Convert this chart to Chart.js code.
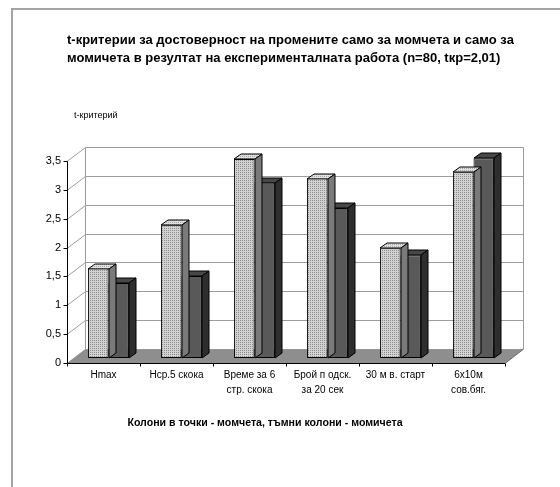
<!DOCTYPE html>
<html><head><meta charset="utf-8">
<script src="https://cdn.jsdelivr.net/npm/chart.js@4/dist/chart.umd.min.js"></script>
<style>html,body{margin:0;padding:0;background:#fff;}#wrap{width:560px;height:487px;position:relative;}</style>
</head><body><div id="wrap"><canvas id="c" width="560" height="487"></canvas></div>
<script>
const categories = [["Hmax"],["Hср.5 скока"],["Време за 6","стр. скока"],["Брой п одск.","за 20 сек"],["30 м в. старт"],["6x10м","сов.бяг."]];
const boys = [1.55, 2.30, 3.45, 3.11, 1.90, 3.22];
const girls = [1.30, 1.42, 3.04, 2.60, 1.78, 3.46];
const seriesNames = ["момчета","момичета"];
const yTicks = [0,0.5,1,1.5,2,2.5,3,3.5];
const yTickLabels = ["0","0,5","1","1,5","2","2,5","3","3,5"];
const titleLines = ["t-критерии за достоверност на промените само за момчета и само за","момичета в резултат на експерименталната работа (n=80, tкр=2,01)"];
const yAxisLabel = "t-критерий";
const noteText = "Колони в точки - момчета, тъмни колони - момичета";

const FONT = "'Liberation Sans', Arial, sans-serif";
const canvas = document.getElementById('c');
const mainCtx = canvas.getContext('2d');

function dotPattern(a, b){
  const c = document.createElement('canvas'); c.width = 2; c.height = 2;
  const g = c.getContext('2d');
  g.fillStyle = a; g.fillRect(0,0,2,2);
  g.fillStyle = b; g.fillRect(0,0,1,1);
  return mainCtx.createPattern(c, 'repeat');
}
const lightFront = dotPattern('#d2d2d2', '#8e8e8e');
const lightTop = dotPattern('#e0e0e0', '#a8a8a8');
const faces = [
  {top: lightTop, side: '#7a7a7a'},
  {top: '#474747', side: '#2e2e2e'}
];
const BACK = {dx: 13, dy: -9};
const FRONT = {dx: -5, dy: 5};
const DEPTH = {dx: 7, dy: -5};

const pseudo3d = {
  id: 'pseudo3d',
  afterLayout(chart){
    const t = chart.titleBlock;
    if (t) { t.left = 67; t.right = 560; }
  },
  beforeDraw(chart){
    const ctx = chart.ctx;
    ctx.save();
    ctx.strokeStyle = '#a4a4a4'; ctx.lineWidth = 2;
    ctx.beginPath();
    ctx.moveTo(12, 487); ctx.lineTo(12, 9); ctx.lineTo(560, 9);
    ctx.stroke();
    ctx.restore();
  },
  beforeDatasetsDraw(chart){
    const ctx = chart.ctx, ys = chart.scales.y, ca = chart.chartArea;
    const yTop = ys.getPixelForValue(yTicks[yTicks.length-1]);
    const yBot = ys.getPixelForValue(0);
    ctx.save();
    const bl = ca.left + BACK.dx, br = ca.right + BACK.dx;
    ctx.fillStyle = '#ffffff';
    ctx.fillRect(bl, yTop + BACK.dy, br - bl, yBot - yTop);
    ctx.strokeStyle = '#9c9c9c'; ctx.lineWidth = 1;
    yTicks.forEach(v => {
      const py = Math.round(ys.getPixelForValue(v)) + 0.5;
      ctx.beginPath();
      ctx.moveTo(ca.left + FRONT.dx, py + FRONT.dy);
      ctx.lineTo(bl + 0.5, py + BACK.dy);
      ctx.lineTo(br + 0.5, py + BACK.dy);
      ctx.stroke();
    });
    ctx.beginPath();
    ctx.moveTo(bl + 0.5, Math.round(yTop) + BACK.dy + 0.5);
    ctx.lineTo(bl + 0.5, Math.round(yBot) + BACK.dy + 0.5);
    ctx.moveTo(br + 0.5, Math.round(yTop) + BACK.dy + 0.5);
    ctx.lineTo(br + 0.5, Math.round(yBot) + BACK.dy + 0.5);
    ctx.stroke();
    const fy = Math.round(yBot) + 0.5;
    ctx.fillStyle = '#8e8e8e';
    ctx.beginPath();
    ctx.moveTo(ca.left + FRONT.dx, fy + FRONT.dy);
    ctx.lineTo(ca.right + FRONT.dx, fy + FRONT.dy);
    ctx.lineTo(ca.right + BACK.dx, fy + BACK.dy);
    ctx.lineTo(ca.left + BACK.dx, fy + BACK.dy);
    ctx.closePath();
    ctx.fill();
    ctx.strokeStyle = '#6a6a6a';
    ctx.beginPath();
    ctx.moveTo(ca.right + FRONT.dx, fy + FRONT.dy);
    ctx.lineTo(ca.right + BACK.dx, fy + BACK.dy);
    ctx.stroke();
    ctx.strokeStyle = '#000'; ctx.lineWidth = 1;
    const ax = ca.left + FRONT.dx + 0.5;
    ctx.beginPath();
    ctx.moveTo(ax, Math.round(yTop) + FRONT.dy + 0.5);
    ctx.lineTo(ax, fy + FRONT.dy);
    ctx.lineTo(ca.right + FRONT.dx, fy + FRONT.dy);
    yTicks.forEach(v => {
      const py = Math.round(ys.getPixelForValue(v)) + 0.5 + FRONT.dy;
      ctx.moveTo(ax - 4, py); ctx.lineTo(ax, py);
    });
    const n = categories.length, step = (ca.right - ca.left) / n;
    for (let k = 0; k <= n; k++) {
      const px = Math.round(ca.left + k * step + FRONT.dx) + 0.5;
      ctx.moveTo(px, fy + FRONT.dy); ctx.lineTo(px, fy + FRONT.dy + 3);
    }
    ctx.stroke();
    ctx.restore();
  },
  beforeDatasetDraw(chart, args){
    const ctx = chart.ctx;
    const meta = chart.getDatasetMeta(args.index);
    const f = faces[args.index];
    ctx.save();
    ctx.strokeStyle = '#000'; ctx.lineWidth = 1;
    meta.data.forEach(el => {
      const p = el.getProps(['x','y','base','width'], true);
      const l = Math.round(p.x - p.width/2), r = Math.round(p.x + p.width/2);
      const t = Math.round(p.y), b = Math.round(p.base);
      ctx.fillStyle = f.top;
      ctx.beginPath();
      ctx.moveTo(l, t); ctx.lineTo(l + DEPTH.dx, t + DEPTH.dy);
      ctx.lineTo(r + DEPTH.dx, t + DEPTH.dy); ctx.lineTo(r, t); ctx.closePath();
      ctx.fill(); ctx.stroke();
      ctx.fillStyle = f.side;
      ctx.beginPath();
      ctx.moveTo(r, t); ctx.lineTo(r + DEPTH.dx, t + DEPTH.dy);
      ctx.lineTo(r + DEPTH.dx, b + DEPTH.dy); ctx.lineTo(r, b); ctx.closePath();
      ctx.fill(); ctx.stroke();
    });
    ctx.restore();
  },
  afterDraw(chart){
    const ctx = chart.ctx;
    ctx.save();
    ctx.fillStyle = '#000';
    ctx.textBaseline = 'middle';
    ctx.textAlign = 'left';
    ctx.font = '9px ' + FONT;
    ctx.fillText(yAxisLabel, 74, 116);
    ctx.font = 'bold 10.6px ' + FONT;
    ctx.textAlign = 'center';
    ctx.fillText(noteText, 265, 423);
    ctx.restore();
  }
};

new Chart(canvas, {
  type: 'bar',
  data: {
    labels: categories,
    datasets: [
      {label: seriesNames[0], data: boys, backgroundColor: lightFront, borderColor: '#000', borderWidth: 1, borderSkipped: false},
      {label: seriesNames[1], data: girls, backgroundColor: '#595959', borderColor: '#000', borderWidth: 1, borderSkipped: false}
    ]
  },
  plugins: [pseudo3d],
  options: {
    responsive: false,
    animation: false,
    devicePixelRatio: 1,
    layout: {padding: {left: 36, right: 50, top: 0, bottom: 0}},
    datasets: {bar: {categoryPercentage: 0.56, barPercentage: 1.0}},
    scales: {
      x: {
        grid: {display: false, drawTicks: false},
        border: {display: false},
        ticks: {color: '#000', font: {family: FONT, size: 10, lineHeight: 1.5}, padding: 10, labelOffset: -5, maxRotation: 0, autoSkip: false},
        afterFit(s){ s.height = 129; }
      },
      y: {
        min: 0, max: 3.5,
        grid: {display: false, drawTicks: false},
        border: {display: false},
        afterBuildTicks(s){ s.ticks = yTicks.map(v => ({value: v})); },
        ticks: {color: '#000', font: {family: FONT, size: 11}, padding: 11, labelOffset: 5, autoSkip: false,
                callback: (v, i) => yTickLabels[i]},
        afterFit(s){ s.width = 36; }
      }
    },
    plugins: {
      legend: {display: false},
      tooltip: {enabled: false},
      title: {
        display: true, text: titleLines, align: 'start', color: '#000',
        font: {family: FONT, size: 13, weight: 'bold', lineHeight: 18/13},
        padding: {top: 31, bottom: 89}
      }
    }
  }
});
</script></body></html>
